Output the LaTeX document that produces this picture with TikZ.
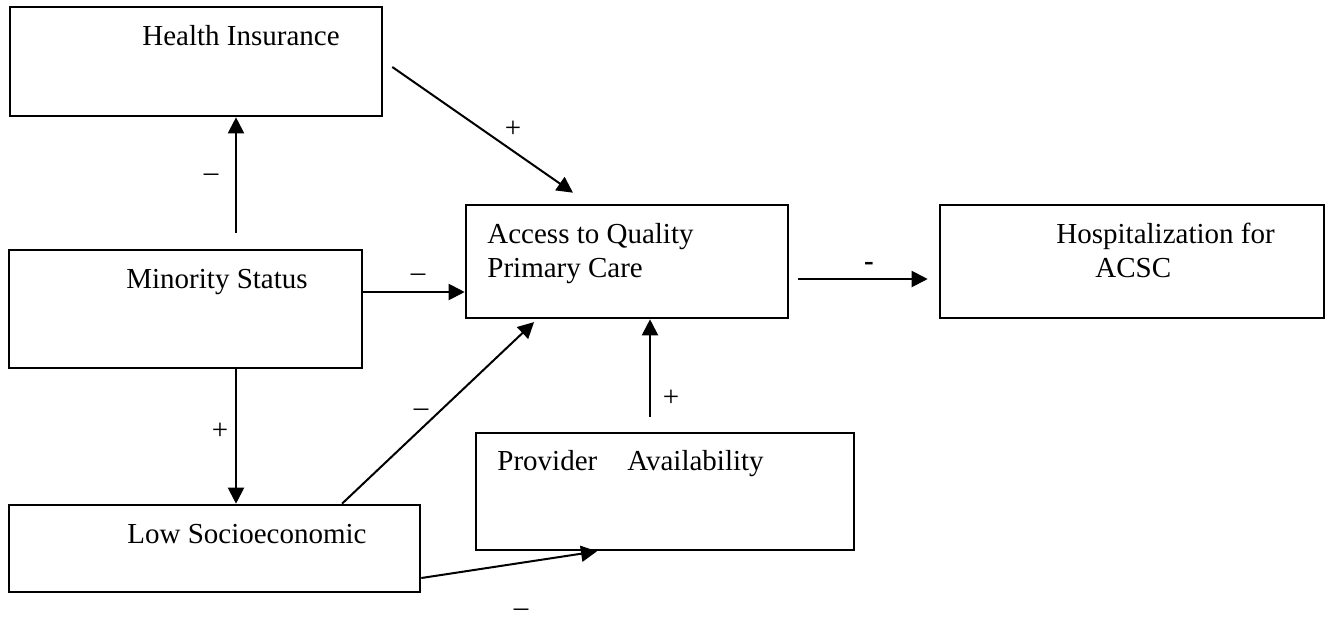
\documentclass[tikz,border=0pt]{standalone}
\usepackage{fontspec}
\setmainfont{Liberation Serif}
\usetikzlibrary{arrows.meta,positioning}

\begin{document}
\begin{tikzpicture}[
  x=0.5pt, y=-0.5pt,
  font=\fontsize{14.5}{17}\selectfont,
  box/.style={draw, line width=1.3pt, inner sep=0pt},
  txt/.style={inner sep=0pt, align=left, anchor=base west},
  lbl/.style={inner sep=0pt},
  arr/.style={-{Triangle[length=8pt,width=8pt]}, line width=1pt}
]
\useasboundingbox (0,0) rectangle (1331,622);

% boxes
\node[box, minimum width=186pt, minimum height=54.5pt] (hi) at (196,61.5) {};
\node[box, minimum width=176.5pt, minimum height=59pt] (ms) at (185.5,309) {};
\node[box, minimum width=161pt, minimum height=56.5pt] (acc) at (627,261.5) {};
\node[box, minimum width=192pt, minimum height=56.5pt] (hosp) at (1132,261.5) {};
\node[box, minimum width=189pt, minimum height=58.5pt] (prov) at (665,491.5) {};
\node[box, minimum width=205.5pt, minimum height=43.5pt] (ses) at (214.5,548.5) {};

% texts (base = last line)
\node[txt] (hitxt) at (142,45) {Health Insurance};
\node[txt] (mstxt) at (126,288) {Minority Status};
\node[txt] (acctxt) at (487,277) {Access to Quality\\Primary Care};
\node[txt] (hosptxt) at (1056,277) {Hospitalization for\\\hspace*{19.5pt}ACSC};
\node[txt] (provtxt) at (497,470) {Provider\hspace{15pt}Availability};
\node[txt] (sestxt) at (127,543) {Low Socioeconomic};

% connectors
\draw[arr, shorten <=8pt] ([xshift=25.25pt]ms.north) -- ([xshift=25.25pt]ms.north |- hi.south);
\draw[arr] ([shift={(4.5pt,-2.75pt)}]hi.east) -- ([shift={(-27pt,5.5pt)}]acc.north);
\draw[arr] ([yshift=8.5pt]ms.east) -- ([yshift=8.5pt]ms.east -| acc.west);
\draw[arr, shorten <=4.5pt, shorten >=5.5pt] ([yshift=-8.75pt]acc.east) -- ([yshift=-8.75pt]acc.east -| hosp.west);
\draw[arr] ([xshift=25.25pt]ms.south) -- ([xshift=25.25pt]ms.south |- ses.north);
\draw[arr, shorten >=2pt] ([xshift=63.75pt]ses.north) -- ([xshift=-45pt]acc.south);
\draw[arr, shorten <=7.5pt] ([xshift=-7.5pt]prov.north) -- ([xshift=-7.5pt]prov.north |- acc.south);
\draw[arr] ([yshift=-14.75pt]ses.east) -- ([xshift=-34pt]prov.south);

% signs
\node[lbl] (l1) at (211,178) {--};
\node[lbl] (l2) at (513,129) {+};
\node[lbl] (l3) at (418,278) {--};
\node[lbl] (l4) at (869,266) {\textbf{-}};
\node[lbl] (l5) at (220,431) {+};
\node[lbl] (l6) at (421,413) {--};
\node[lbl] (l7) at (671,398) {+};
\node[lbl] (l8) at (521,613) {--};
\end{tikzpicture}
\end{document}
